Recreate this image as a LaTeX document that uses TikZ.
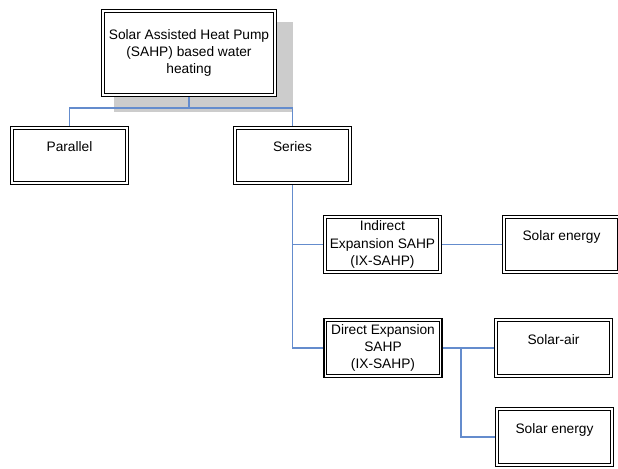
\documentclass[tikz,border=0pt]{standalone}
\usepackage{fontspec}
\setmainfont{Liberation Sans}
\usetikzlibrary{backgrounds}
\definecolor{linkblue}{RGB}{100,140,205}
\definecolor{shadowgray}{RGB}{204,204,204}

\begin{document}
\begin{tikzpicture}
[x=0.75pt,y=-0.75pt,
box/.style={rectangle,draw=black,double,double distance=1.2pt,line width=0.8pt,
fill=white,inner sep=0pt,minimum width=86.5pt,minimum height=41.6pt,
font=\fontsize{10.3}{12.8}\selectfont,align=center},
upper/.style={text height=18pt,text depth=23.6pt},
link/.style={draw=linkblue,line width=0.8pt}]

\useasboundingbox (0,0) rectangle (618,468);

\node[box,minimum width=129.2pt,minimum height=63.2pt] (sahp) at (189,53)
  {Solar Assisted Heat Pump\\(SAHP) based water\\heating};
\node[box,upper] (parallel) at (69.5,155.5) {Parallel};
\node[box,upper] (series) at (292.5,155.5) {Series};

\node[box] (ixsahp) at (382.5,244.5) {Indirect\\Expansion SAHP\\(IX-SAHP)};
\node[box,upper] (ixsolar) at (561.5,244.5) {Solar energy};

\node[box] (dxsahp) at (383,348) {Direct Expansion\\SAHP\\(IX-SAHP)};
\node[box,upper] (dxair) at (553.5,348) {Solar-air};
\node[box,upper] (dxsolar) at (554.5,437) {Solar energy};

% junctions
\coordinate (topbus) at (189,108);
\coordinate (dxbus) at (461,348);

\begin{scope}[on background layer]
% shadow behind the top box
\fill[shadowgray] (114,22) rectangle (293,112);
\draw[link] (sahp.south) -- (topbus);
\draw[link] (parallel.north) |- (topbus) -| (series.north);
\draw[link] (series.south) |- (ixsahp.west);
\draw[link] (series.south) |- (dxsahp.west);
\draw[link] (ixsahp.east) -- (ixsolar.west);
\draw[link] (dxsahp.east) -- (dxair.west);
\draw[link] (dxbus) |- (dxsolar.west);
\end{scope}

\end{tikzpicture}
\end{document}
